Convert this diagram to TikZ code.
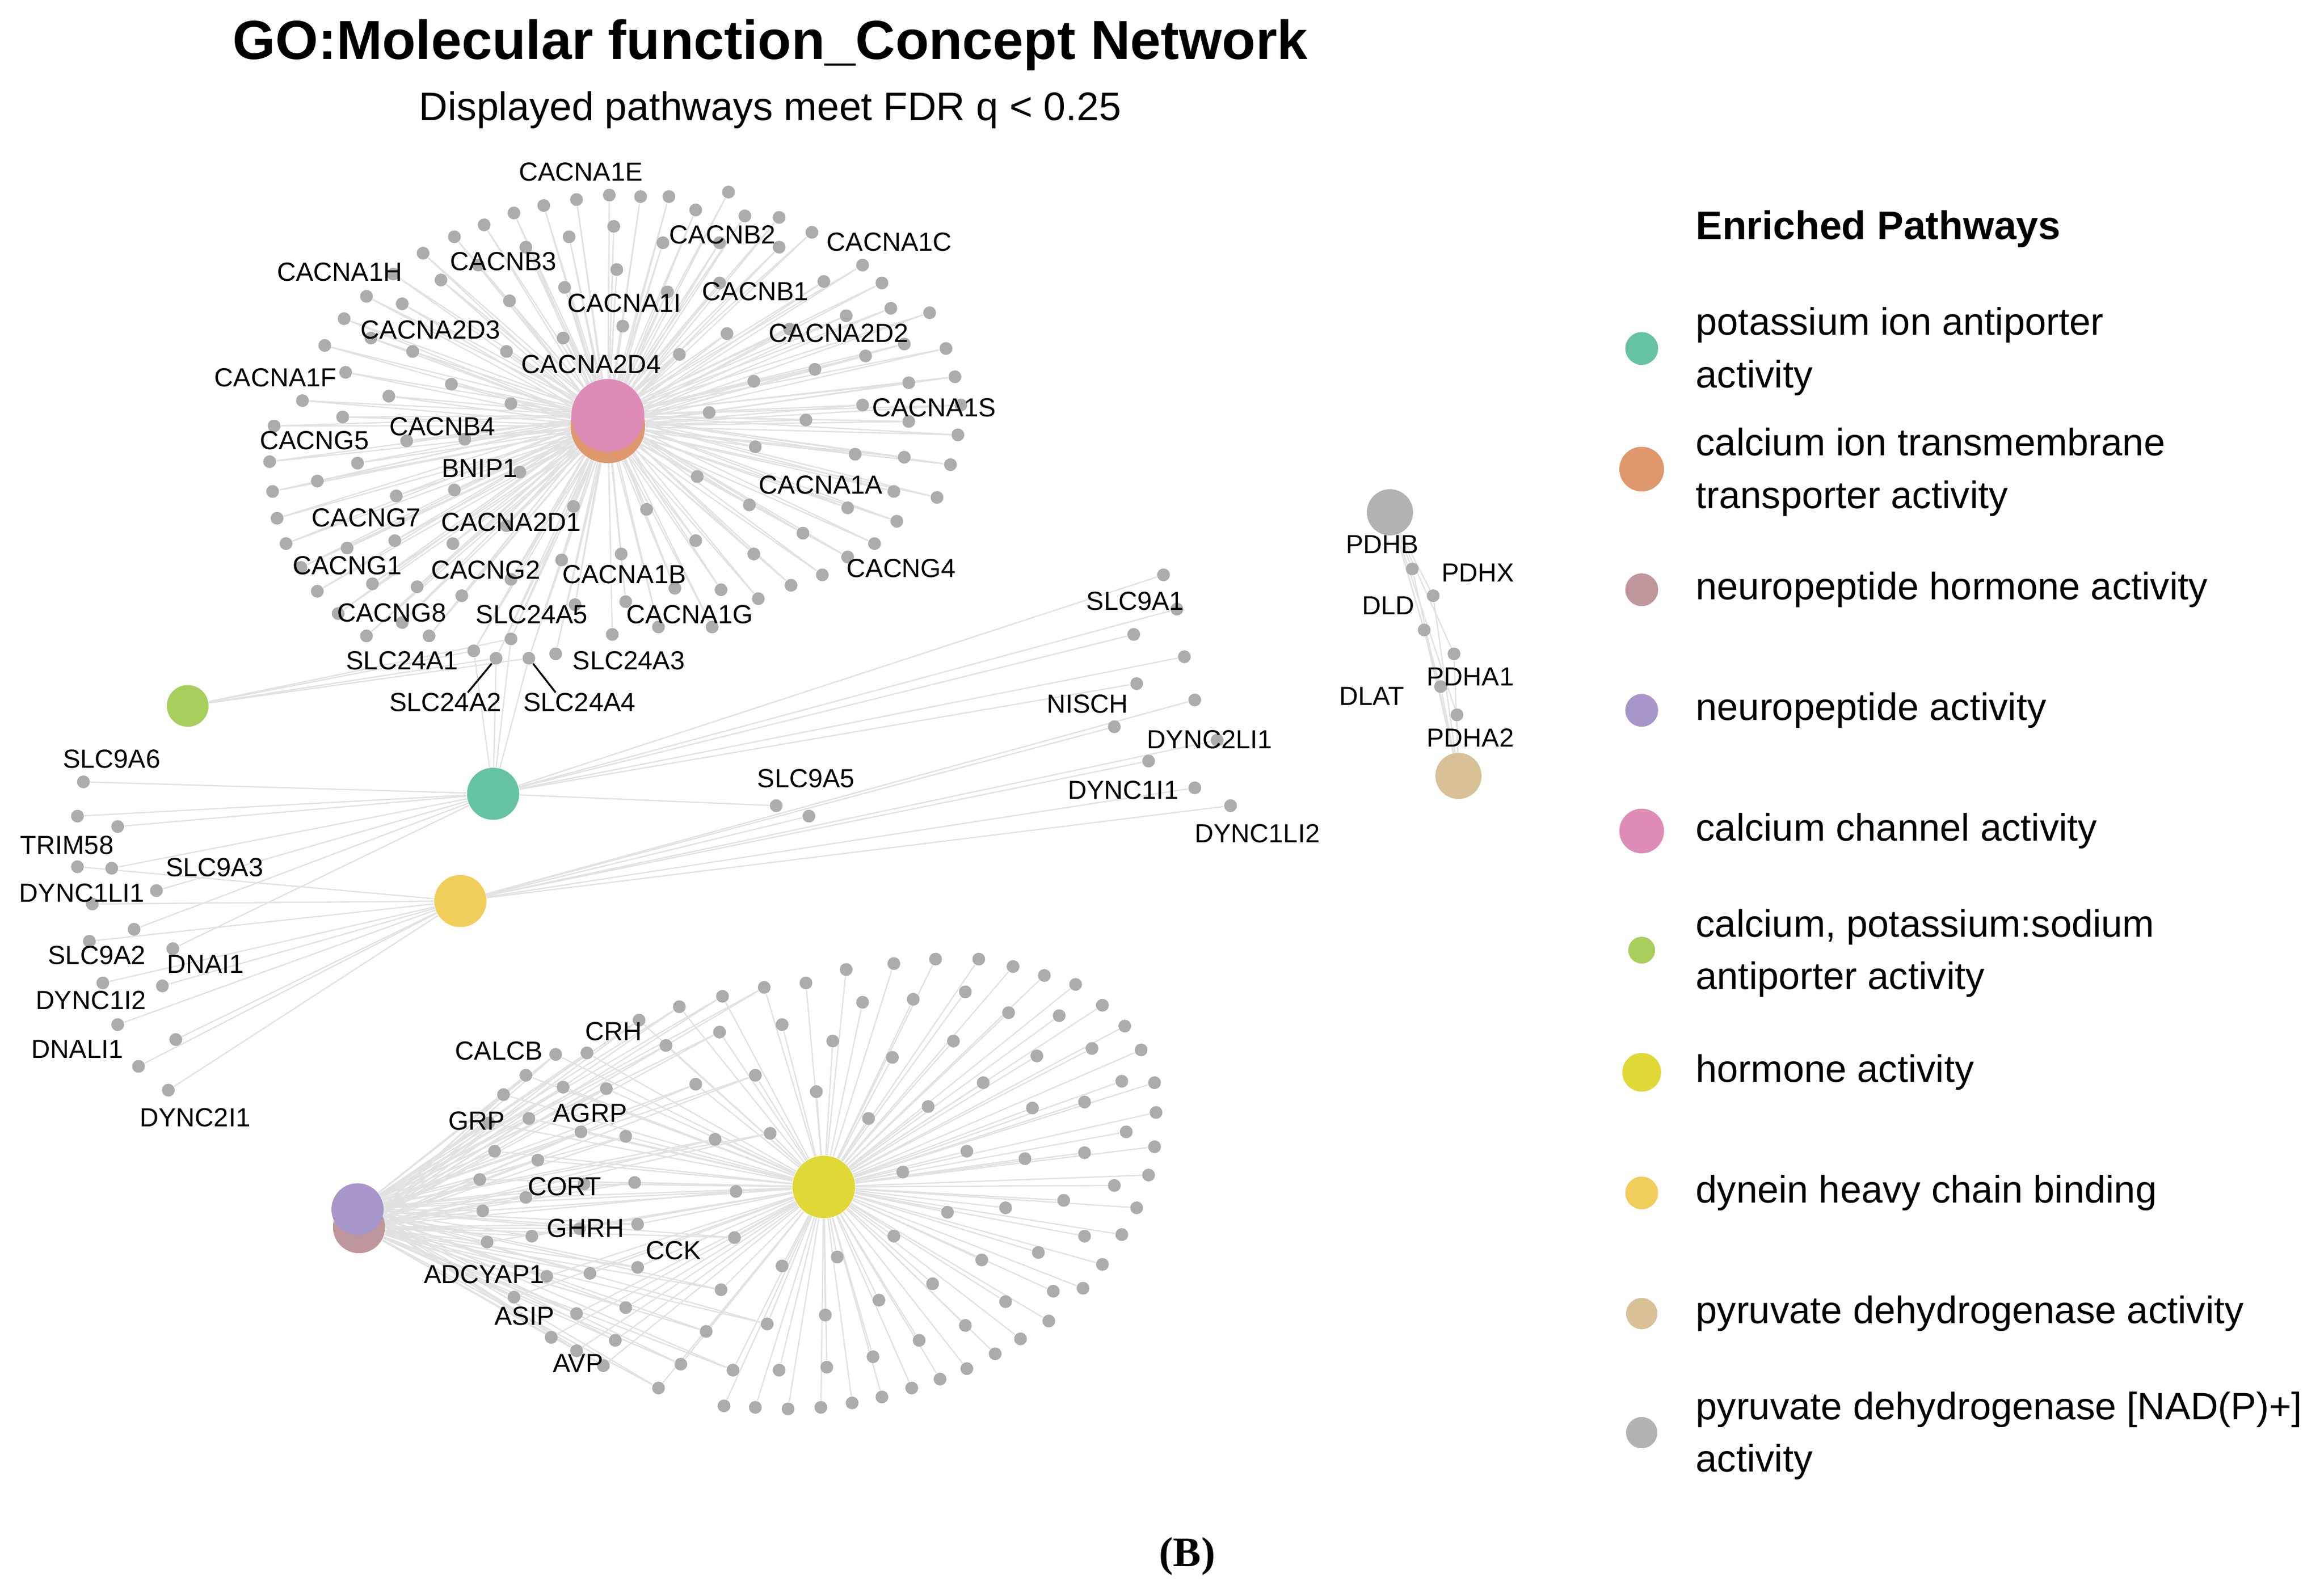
\documentclass[tikz,border=0pt]{standalone}
\usepackage{fontspec}
\setmainfont{Liberation Sans}
\newfontfamily\figfont{Liberation Serif}
\usepackage{xcolor}
\usetikzlibrary{positioning}
\pgfdeclarelayer{bg}
\pgfsetlayers{bg,main}

\definecolor{kanti}{RGB}{102,194,165}
\definecolor{catrans}{RGB}{222,152,108}
\definecolor{nphorm}{RGB}{191,150,155}
\definecolor{npact}{RGB}{167,150,201}
\definecolor{cachan}{RGB}{222,140,181}
\definecolor{caknaanti}{RGB}{168,206,92}
\definecolor{hormact}{RGB}{224,216,54}
\definecolor{dynbind}{RGB}{241,205,90}
\definecolor{pdhact}{RGB}{216,193,150}
\definecolor{pdhnad}{RGB}{178,178,178}
\definecolor{genegray}{RGB}{172,172,172}
\definecolor{edgegray}{RGB}{226,226,226}

% gene positions of each cluster
\def\cachgenes{409/131, 430/132, 387/134, 365/138, 345/143, 325/151, 305/159, 284/170,
    264/184, 246/199, 231/214, 218/232, 232/250, 203/269, 184/286, 181/310, 183/330, 186/348,
    412/152, 382/159, 353/166, 321/178, 296/188, 270/204, 249/227, 277/236, 261/266, 230/280,
    240/311, 213/323, 273/296, 303/258, 340/236, 378/227, 342/202, 379/193, 414/181, 418/219,
    445/163, 343/271, 312/295, 349/317, 305/329, 266/333, 385/340, 434/342, 449/132, 489/129,
    467/141, 500/145, 523/146, 545/156, 523/166, 483/163, 448/196, 483/190, 553/189, 579/178,
    592/190, 598/207, 624/210, 568/212, 530/221, 488/224, 456/238, 607/231, 635/234, 581/239,
    547/248, 506/256, 641/253, 610/257, 579/272, 645/272, 476/277, 541/282, 610/283, 643/292,
    507/300, 574/305, 607/307, 638/312, 468/320, 600/330, 629/334, 503/339, 569/341, 602/350,
    539/358, 587/365, 467/363, 506/372, 417/372, 569/374, 377/376, 552/386, 531/393, 453/395,
    484/396, 509/402, 420/404, 386/406, 442/421, 478/421, 411/426, 373/439, 192/365, 265/363,
    233/368, 304/365, 340/353, 202/381, 250/392, 280/394, 343/389, 213/397, 310/400, 227/412,
    270/418, 246/427, 288/427, 343/429, 318/437, 333/442, 355/442}
\def\kantigenes{56/525, 52/548, 79/555, 75/583, 105/598, 90/624, 116/637,
    521/541, 781/386, 790/409, 761/426, 795/441, 763/459}
\def\dyngenes{52/582, 62/607, 60/632, 69/660, 109/662, 79/688, 118/698, 93/716,
    113/732, 543/548, 802/470, 748/488, 817/497, 771/511, 802/529, 826/541}
\def\pdhgenes{948/382, 962/400, 956/423, 976/439, 967/461, 978/480}
\def\npgenes{373/708, 394/707, 429/685, 447/702, 456/676, 485/669, 513/663,
    483/693, 353/722, 378/730, 407/731, 338/735, 467/728, 507/722, 355/751, 328/754, 390/760,
    420/763, 480/765, 517/761, 332/773, 361/779, 322/792, 392/795, 426/794, 353/804, 494/800,
    324/813, 428/822, 389/825, 357/830, 327/834, 493/831, 367/857, 396/855, 428/851, 345/871,
    484/866, 420/878, 387/882, 474/894, 370/898, 413/900, 515/889, 387/907, 405/917, 457/916,
    492/920, 442/932}
\def\horgenes{541/660, 568/651, 600/647, 628/644, 657/644, 680/649, 701/655,
    722/661, 740/675, 755/689, 766/705, 775/727, 776/747, 775/770, 771/789, 763/811, 753/829,
    740/849, 727/865, 704/887, 685/899, 668/909, 649/919, 631/926, 612/932, 592/938, 572/942,
    551/945, 529/946, 507/945, 486/944, 579/673, 613/671, 648/666, 677/680, 711/682, 733/704,
    753/726, 756/760, 748/796, 728/830, 707/867, 525/688, 559/699, 599/710, 640/699, 696/709,
    660/727, 623/743, 693/744, 728/740, 548/733, 583/751, 649/773, 688/778, 728/774, 606/787,
    714/806, 675/811, 636/814, 600/830, 697/841, 659/846, 562/844, 525/850, 626/862, 675/874,
    590/873, 648/890, 554/883, 617/900, 586/911, 555/918, 523/920}

\begin{document}
\begin{tikzpicture}[x=0.02cm,y=-0.02cm,
    gene/.style={circle,fill=genegray,inner sep=0pt,minimum size=0.172cm},
    hub/.style={circle,inner sep=0pt},
    edge/.style={draw=edgegray,line width=0.5pt},
    leader/.style={draw=black,line width=0.7pt},
    gname/.style={font=\fontsize{10}{12}\selectfont,inner sep=0pt,anchor=mid,yshift=-0.04cm},
    legdot/.style={circle,inner sep=0pt},
    legtext/.style={font=\fontsize{14.6}{20}\selectfont,align=left,inner sep=0pt}]
    \useasboundingbox (0,0) rectangle (1560,1067.6);

    % Title
    \node[font=\bfseries\fontsize{21}{25}\selectfont,inner sep=0pt,anchor=mid] (title) at (517,35) {GO:Molecular function\_Concept Network};
    \node[font=\fontsize{15.2}{18}\selectfont,inner sep=0pt,anchor=mid] (subtitle) at (517,76) {Displayed pathways meet FDR q < 0.25};

    % Pathway hubs
    \node[hub,fill=catrans,minimum size=1cm] (hcat) at (408,286) {};
    \node[hub,fill=cachan,minimum size=0.98cm] (hcac) at (408,279) {};
    \node[hub,fill=caknaanti,minimum size=0.56cm] (hckn) at (126,474) {};
    \node[hub,fill=kanti,minimum size=0.7cm] (hkan) at (331,533) {};
    \node[hub,fill=dynbind,minimum size=0.7cm] (hdyn) at (309,605) {};
    \node[hub,fill=pdhnad,minimum size=0.62cm] (hnad) at (933,344) {};
    \node[hub,fill=pdhact,minimum size=0.62cm] (hpdh) at (979,521) {};
    \node[hub,fill=nphorm,minimum size=0.7cm] (hnph) at (241,824) {};
    \node[hub,fill=npact,minimum size=0.7cm] (hnpa) at (240,812) {};
    \node[hub,fill=hormact,minimum size=0.84cm] (hhor) at (553,797) {};

    % Genes
    \foreach \x/\y [count=\i] in \cachgenes \node[gene] (c\i) at (\x,\y) {};
    \foreach \x/\y [count=\i] in \kantigenes \node[gene] (k\i) at (\x,\y) {};
    \foreach \x/\y [count=\i] in \dyngenes \node[gene] (d\i) at (\x,\y) {};
    \foreach \x/\y [count=\i] in \pdhgenes \node[gene] (p\i) at (\x,\y) {};
    \foreach \x/\y [count=\i] in \npgenes \node[gene] (n\i) at (\x,\y) {};
    \foreach \x/\y [count=\i] in \horgenes \node[gene] (h\i) at (\x,\y) {};

    % Edges
    \begin{pgfonlayer}{bg}
        \foreach \x/\y [count=\i] in \cachgenes \draw[edge] (hcat) -- (c\i) (hcac) -- (c\i);
        \foreach \i in {122,...,125} \draw[edge] (hckn) -- (c\i) (hkan) -- (c\i);
        \foreach \x/\y [count=\i] in \kantigenes \draw[edge] (hkan) -- (k\i);
        \foreach \x/\y [count=\i] in \dyngenes \draw[edge] (hdyn) -- (d\i);
        \foreach \x/\y [count=\i] in \pdhgenes \draw[edge] (hnad) -- (p\i) (hpdh) -- (p\i);
        \foreach \x/\y [count=\i] in \npgenes \draw[edge] (hnph) -- (n\i) (hnpa) -- (n\i) (hhor) -- (n\i);
        \foreach \x/\y [count=\i] in \horgenes \draw[edge] (hhor) -- (h\i);
    \end{pgfonlayer}

    % Gene labels
    \node[gname] (lCACNA1E) at (390,115) {CACNA1E};
    \node[gname] (lCACNB2) at (485,157) {CACNB2};
    \node[gname] (lCACNA1C) at (597,162) {CACNA1C};
    \node[gname] (lCACNA1H) at (228,182) {CACNA1H};
    \node[gname] (lCACNB3) at (338,175) {CACNB3};
    \node[gname] (lCACNB1) at (507,195) {CACNB1};
    \node[gname] (lCACNA1I) at (419,203) {CACNA1I};
    \node[gname] (lCACNA2D2) at (563,223) {CACNA2D2};
    \node[gname] (lCACNA2D3) at (289,221) {CACNA2D3};
    \node[gname] (lCACNA2D4) at (397,244) {CACNA2D4};
    \node[gname] (lCACNA1F) at (185,253) {CACNA1F};
    \node[gname] (lCACNA1S) at (627,273) {CACNA1S};
    \node[gname] (lCACNG5) at (211,295) {CACNG5};
    \node[gname] (lCACNB4) at (297,286) {CACNB4};
    \node[gname] (lBNIP1) at (322,314) {BNIP1};
    \node[gname] (lCACNA1A) at (551,325) {CACNA1A};
    \node[gname] (lCACNG7) at (246,347) {CACNG7};
    \node[gname] (lCACNA2D1) at (343,350) {CACNA2D1};
    \node[gname] (lCACNG1) at (233,379) {CACNG1};
    \node[gname] (lCACNG2) at (326,382) {CACNG2};
    \node[gname] (lCACNA1B) at (419,385) {CACNA1B};
    \node[gname] (lCACNG4) at (605,381) {CACNG4};
    \node[gname] (lCACNG8) at (263,411) {CACNG8};
    \node[gname] (lSLC24A5) at (357,412) {SLC24A5};
    \node[gname] (lCACNA1G) at (463,412) {CACNA1G};
    \node[gname] (lSLC24A1) at (270,443) {SLC24A1};
    \node[gname] (lSLC24A3) at (422,443) {SLC24A3};
    \node[gname] (lSLC24A2) at (299,471) {SLC24A2};
    \node[gname] (lSLC24A4) at (389,471) {SLC24A4};
    \draw[leader] ([xshift=0.3cm]lSLC24A2.north) -- (c124);
    \draw[leader] ([xshift=-0.32cm]lSLC24A4.north) -- (c125);

    \node[gname] (lSLC9A6) at (75,509) {SLC9A6};
    \node[gname] (lTRIM58) at (45,567) {TRIM58};
    \node[gname] (lSLC9A3) at (144,582) {SLC9A3};
    \node[gname] (lDYNC1LI1) at (55,599) {DYNC1LI1};
    \node[gname] (lSLC9A2) at (65,641) {SLC9A2};
    \node[gname] (lDNAI1) at (138,647) {DNAI1};
    \node[gname] (lDYNC1I2) at (61,671) {DYNC1I2};
    \node[gname] (lDNALI1) at (52,704) {DNALI1};
    \node[gname] (lDYNC2I1) at (131,750) {DYNC2I1};
    \node[gname] (lSLC9A5) at (541,522) {SLC9A5};
    \node[gname] (lSLC9A1) at (762,403) {SLC9A1};
    \node[gname] (lNISCH) at (730,472) {NISCH};
    \node[gname] (lDYNC2LI1) at (812,496) {DYNC2LI1};
    \node[gname] (lDYNC1I1) at (754,530) {DYNC1I1};
    \node[gname] (lDYNC1LI2) at (844,559) {DYNC1LI2};

    \node[gname] (lPDHB) at (928,365) {PDHB};
    \node[gname] (lPDHX) at (992,384) {PDHX};
    \node[gname] (lDLD) at (932,406) {DLD};
    \node[gname] (lPDHA1) at (987,454) {PDHA1};
    \node[gname] (lDLAT) at (921,467) {DLAT};
    \node[gname] (lPDHA2) at (987,495) {PDHA2};

    \node[gname] (lCALCB) at (335,705) {CALCB};
    \node[gname] (lCRH) at (412,692) {CRH};
    \node[gname] (lGRP) at (320,752) {GRP};
    \node[gname] (lAGRP) at (396,747) {AGRP};
    \node[gname] (lCORT) at (379,796) {CORT};
    \node[gname] (lGHRH) at (393,824) {GHRH};
    \node[gname] (lCCK) at (452,839) {CCK};
    \node[gname] (lADCYAP1) at (325,855) {ADCYAP1};
    \node[gname] (lASIP) at (352,883) {ASIP};
    \node[gname] (lAVP) at (388,915) {AVP};

    % Legend
    \node[font=\bfseries\fontsize{15.2}{18}\selectfont,inner sep=0pt,anchor=mid west] (legtitle) at (1138,156) {Enriched Pathways};
    \node[legdot,fill=kanti,minimum size=0.44cm] (ld1) at (1102,234) {};
    \node[legtext,anchor=west] (lt1) at (1138,236) {potassium ion antiporter\\activity};
    \node[legdot,fill=catrans,minimum size=0.6cm] (ld2) at (1102,315) {};
    \node[legtext,anchor=west] (lt2) at (1138,317) {calcium ion transmembrane\\transporter activity};
    \node[legdot,fill=nphorm,minimum size=0.44cm] (ld3) at (1102,396) {};
    \node[legtext,anchor=mid west] (lt3) at (1138,398) {neuropeptide hormone activity};
    \node[legdot,fill=npact,minimum size=0.44cm] (ld4) at (1102,477) {};
    \node[legtext,anchor=mid west] (lt4) at (1138,479) {neuropeptide activity};
    \node[legdot,fill=cachan,minimum size=0.6cm] (ld5) at (1102,558) {};
    \node[legtext,anchor=mid west] (lt5) at (1138,560) {calcium channel activity};
    \node[legdot,fill=caknaanti,minimum size=0.36cm] (ld6) at (1102,638) {};
    \node[legtext,anchor=west] (lt6) at (1138,640) {calcium, potassium:sodium\\antiporter activity};
    \node[legdot,fill=hormact,minimum size=0.52cm] (ld7) at (1102,720) {};
    \node[legtext,anchor=mid west] (lt7) at (1138,722) {hormone activity};
    \node[legdot,fill=dynbind,minimum size=0.44cm] (ld8) at (1102,801) {};
    \node[legtext,anchor=mid west] (lt8) at (1138,803) {dynein heavy chain binding};
    \node[legdot,fill=pdhact,minimum size=0.42cm] (ld9) at (1102,882) {};
    \node[legtext,anchor=mid west] (lt9) at (1138,884) {pyruvate dehydrogenase activity};
    \node[legdot,fill=pdhnad,minimum size=0.42cm] (ld10) at (1102,962) {};
    \node[legtext,anchor=west] (lt10) at (1138,964) {pyruvate dehydrogenase [NAD(P)+]\\activity};

    % Panel tag
    \node[font=\figfont\bfseries\fontsize{16}{19}\selectfont,inner sep=0pt] (tag) at (797,1045) {(B)};
\end{tikzpicture}
\end{document}
